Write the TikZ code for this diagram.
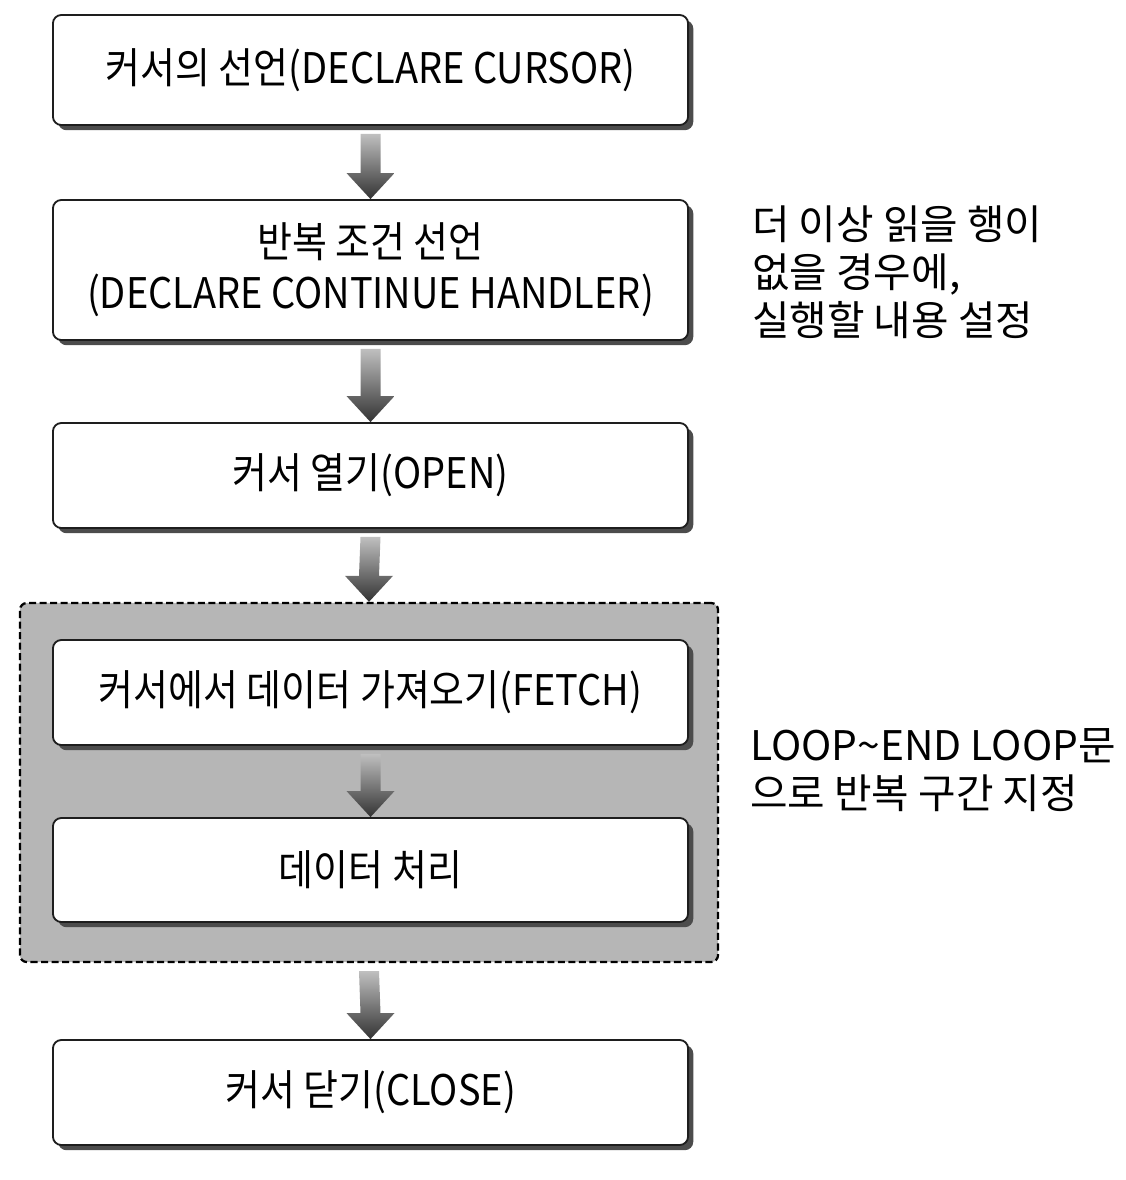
\documentclass[tikz,border=0pt]{standalone}
\usepackage{fontspec}
\setmainfont{Noto Sans CJK KR}
\newfontfamily\boxfont[FakeStretch=0.9]{Noto Sans CJK KR}
\usetikzlibrary{calc,shadows}
\definecolor{boxLine}{RGB}{30,30,30}
\definecolor{loopGray}{RGB}{182,182,182}
\tikzset{
	cbox/.style={
		draw=boxLine,
		line width=1.3pt,
		fill=white,
		rounded corners=6pt,
		align=center,
		inner sep=2pt,
		minimum width=15.875cm,
		font=\boxfont\fontsize{30}{36}\selectfont,
		drop shadow={shadow xshift=0.13cm, shadow yshift=-0.13cm, fill=black!70, opacity=1}
	},
	loopreg/.style={
		draw=black,
		line width=1.6pt,
		dash pattern=on 5pt off 2.5pt,
		fill=loopGray,
		rounded corners=5pt,
		minimum width=17.45cm,
		minimum height=8.975cm
	},
	note/.style={align=left, anchor=west, inner sep=0pt, font=\fontsize{29}{34}\selectfont},
	ashade/.style={top color=black!25, bottom color=black!80, draw=none}
}
% fat shaded arrow from the bottom of #1 to the top of #2
\newcommand{\flowarrow}[2]{%
	\shade[ashade] ($(#1.south)+(-10,8)$) -- ($(#2.north)+(-10,-26)$) -- ($(#2.north)+(-24,-26)$)
		-- (#2.north) -- ($(#2.north)+(24,-26)$) -- ($(#2.north)+(10,-26)$) -- ($(#1.south)+(10,8)$) -- cycle;}

\begin{document}
\begin{tikzpicture}[x=0.025cm, y=-0.025cm]
	\useasboundingbox (0,0) rectangle (1126,1180);
	\node[loopreg] (loop) at (369,782.5) {};
	\node[cbox, minimum height=2.75cm] (decl) at (370.5,70) {커서의 선언(DECLARE CURSOR)};
	\node[cbox, minimum height=3.5cm] (handler) at (370.5,270) {반복 조건 선언\\(DECLARE CONTINUE HANDLER)};
	\node[cbox, minimum height=2.625cm] (open) at (370.5,475.5) {커서 열기(OPEN)};
	\node[cbox, minimum height=2.625cm] (fetch) at (370.5,692.5) {커서에서 데이터 가져오기(FETCH)};
	\node[cbox, minimum height=2.6cm] (proc) at (370.5,870) {데이터 처리};
	\node[cbox, minimum height=2.625cm] (close) at (370.5,1092.5) {커서 닫기(CLOSE)};
	\node[note] (handlernote) at (752,272) {더 이상 읽을 행이\\없을 경우에,\\실행할 내용 설정};
	\node[note] (loopnote) at (750,770) {LOOP\textasciitilde END LOOP문\\으로 반복 구간 지정};
	\flowarrow{decl}{handler}
	\flowarrow{handler}{open}
	\flowarrow{open}{loop}
	\flowarrow{fetch}{proc}
	\flowarrow{loop}{close}
\end{tikzpicture}
\end{document}
